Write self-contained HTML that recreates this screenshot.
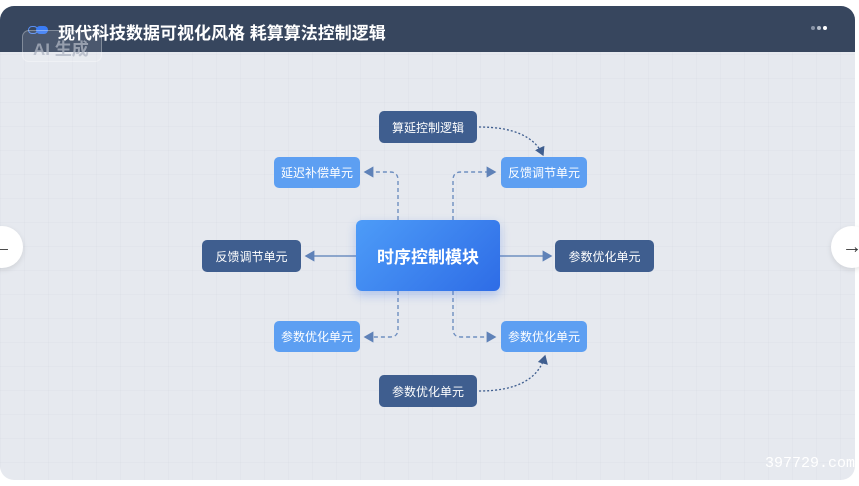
<!DOCTYPE html>
<html><head><meta charset="utf-8"><style>
*{margin:0;padding:0;box-sizing:border-box}
body{width:859px;height:486px;background:#fff;position:relative;overflow:hidden;font-family:"Liberation Sans","Noto Sans CJK SC",sans-serif}
.card{position:absolute;left:0;top:6px;width:855px;height:474px;border-radius:14px;overflow:hidden;background:#e6e9ef;
background-image:linear-gradient(rgba(205,210,220,.18) 1px,transparent 1px),linear-gradient(90deg,rgba(205,210,220,.18) 1px,transparent 1px);background-size:24px 24px}
.hdr{position:absolute;left:0;top:0;width:855px;height:46px;background:#37465e}
.title{position:absolute;left:58px;top:13px;color:#fff;font-size:17px;font-weight:bold}
.ai{position:absolute;left:22px;top:24px;width:80px;height:32px;border:1px solid rgba(255,255,255,.3);border-radius:7px;background:rgba(255,255,255,.1);color:rgba(175,182,195,.75);font-size:17px;font-weight:bold;padding:4px 0 0 10px}
.n{position:absolute;display:flex;align-items:center;justify-content:center;color:#fff;font-size:12px;border-radius:5px}
.d{background:#3f5e8f}
.l{background:#5d9ff2}
.c{background:linear-gradient(135deg,#4d9cf8,#2e6ce6);font-size:17px;font-weight:bold;border-radius:6px;box-shadow:0 4px 10px rgba(50,110,230,.3)}
.nav{position:absolute;width:42px;height:42px;border-radius:50%;background:#fff;box-shadow:0 2px 6px rgba(0,0,0,.1);font-size:20px;color:#333;display:flex;align-items:center;justify-content:center}
</style></head><body>
<div class="card">
<div class="hdr"></div>
<div class="title">现代科技数据可视化风格 耗算算法控制逻辑</div>
<div style="position:absolute;left:28px;top:20px;width:10px;height:8px;border:1px solid #5a8ef0;border-radius:4px"></div>
<div style="position:absolute;left:36px;top:20px;width:12px;height:8px;background:#3a7cf5;border-radius:4px"></div>
<div class="ai">AI 生成</div>
<div style="position:absolute;left:811px;top:20px;width:4px;height:4px;border-radius:2px;background:#8a95a8"></div>
<div style="position:absolute;left:817px;top:20px;width:4px;height:4px;border-radius:2px;background:#b8c0cc"></div>
<div style="position:absolute;left:823px;top:20px;width:4px;height:4px;border-radius:2px;background:#fff"></div>
<div style="position:absolute;right:0px;bottom:8px;color:#fff;font-family:'Liberation Mono',monospace;font-size:15px">397729.com</div>
</div>
<svg width="859" height="486" style="position:absolute;left:0;top:0">
<defs><marker id="a" markerWidth="8" markerHeight="8" refX="6" refY="4" orient="auto"><path d="M0,0 L7,4 L0,8z" fill="#5f82b8"/></marker>
<marker id="b" markerWidth="8" markerHeight="8" refX="6" refY="4" orient="auto"><path d="M0,0 L7,4 L0,8z" fill="#3f5e8f"/></marker></defs>
<g stroke="#6f8fc0" stroke-width="1.4" fill="none" stroke-dasharray="4,3">
<path d="M398,220 V180 Q398,172 390,172 H365" marker-end="url(#a)"/>
<path d="M453,220 V180 Q453,172 461,172 H495" marker-end="url(#a)"/>
<path d="M398,291 V329 Q398,337 390,337 H365" marker-end="url(#a)"/>
<path d="M453,291 V329 Q453,337 461,337 H495" marker-end="url(#a)"/>
</g>
<g stroke="#6f8fc0" stroke-width="1.4" fill="none">
<path d="M356,256 H306" marker-end="url(#a)"/>
<path d="M500,256 H551" marker-end="url(#a)"/>
</g>
<g stroke="#3f5e8f" stroke-width="1.3" fill="none" stroke-dasharray="2,2">
<path d="M479,127 Q530,127 543,155" marker-end="url(#b)"/>
<path d="M479,391 Q535,391 545,356" marker-end="url(#b)"/>
</g>
</svg>
<div class="n d" style="left:379px;top:111px;width:98px;height:32px">算延控制逻辑</div>
<div class="n l" style="left:274px;top:157px;width:86px;height:31px">延迟补偿单元</div>
<div class="n l" style="left:501px;top:157px;width:86px;height:31px">反馈调节单元</div>
<div class="n c" style="left:356px;top:220px;width:144px;height:71px">时序控制模块</div>
<div class="n d" style="left:202px;top:240px;width:99px;height:32px">反馈调节单元</div>
<div class="n d" style="left:555px;top:240px;width:99px;height:32px">参数优化单元</div>
<div class="n l" style="left:274px;top:321px;width:86px;height:31px">参数优化单元</div>
<div class="n l" style="left:501px;top:321px;width:86px;height:31px">参数优化单元</div>
<div class="n d" style="left:379px;top:375px;width:98px;height:32px">参数优化单元</div>
<div class="nav" style="left:-19px;top:226px">←</div>
<div class="nav" style="left:831px;top:226px">→</div>
</body></html>
